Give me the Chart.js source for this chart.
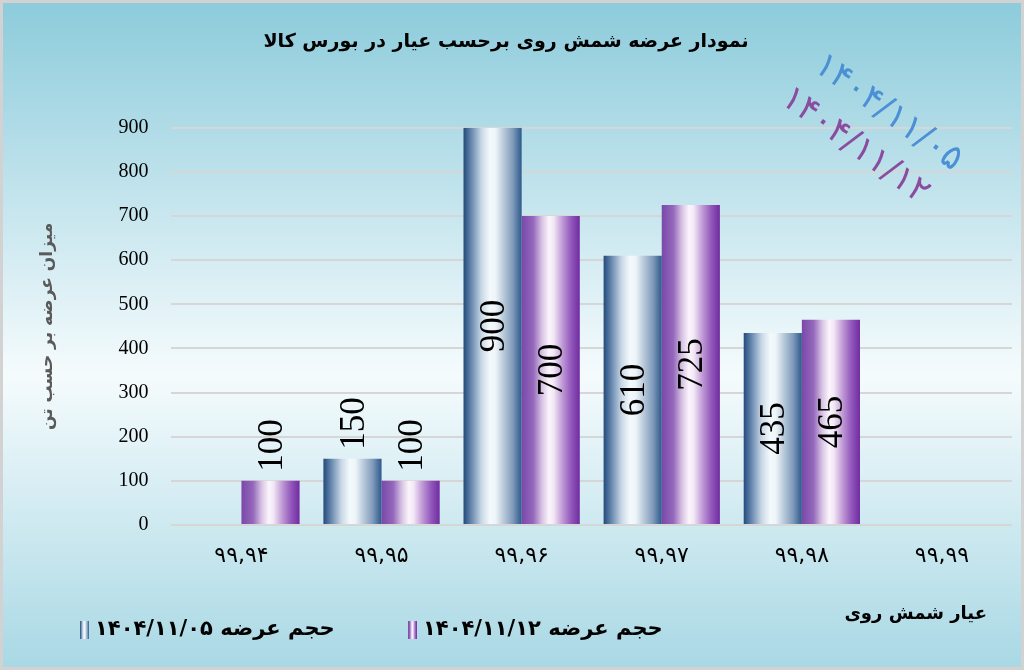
<!DOCTYPE html>
<html><head><meta charset="utf-8">
<script src="https://cdn.jsdelivr.net/npm/chart.js@4.4.1/dist/chart.umd.min.js"></script>
<style>html,body{margin:0;padding:0;background:#fff}#wrap{width:1024px;height:670px;position:relative}</style>
</head><body><div id="wrap"><canvas id="c" width="1024" height="670"></canvas></div>
<script>
// ---- data ----
const categories = ['۹۹,۹۴', '۹۹,۹۵', '۹۹,۹۶', '۹۹,۹۷', '۹۹,۹۸', '۹۹,۹۹'];
const series1Label = 'حجم عرضه ۱۴۰۴/۱۱/۰۵';
const series2Label = 'حجم عرضه ۱۴۰۴/۱۱/۱۲';
const series1Values = [null, 150, 900, 610, 435, null];
const series2Values = [100, 100, 700, 725, 465, null];
const yMin = 0, yMax = 900, yStep = 100;
const chartTitle = 'نمودار عرضه شمش روی برحسب عیار در بورس کالا';
const yAxisTitle = 'میزان عرضه بر حسب تن';
const xAxisTitle = 'عیار شمش روی';
const watermarkDates = ['۱۴۰۴/۱۱/۰۵', '۱۴۰۴/۱۱/۱۲'];

// ---- styles ----
const blueStops = [[0,'#234a7d'],[0.14,'#6a8ab0'],[0.31,'#c9d8e6'],[0.45,'#f3f9fc'],[0.55,'#eef5f9'],[0.7,'#b5c6d8'],[0.85,'#7f9aba'],[1,'#2d598b']];
const purpleStops = [[0,'#7a48aa'],[0.2,'#9468bb'],[0.35,'#d8c4e4'],[0.47,'#fbf5fc'],[0.55,'#f2e8f6'],[0.7,'#c09ad6'],[0.85,'#9358bc'],[1,'#6f2ca0']];
const persianFont = '"DejaVu Sans", "Noto Sans", sans-serif';

function hGrad(ctx, x0, x1, stops) {
  const g = ctx.createLinearGradient(x0, 0, x1, 0);
  stops.forEach(s => g.addColorStop(s[0], s[1]));
  return g;
}
function barFill(stops, fallback) {
  return (context) => {
    const el = context.element;
    if (!el || !isFinite(el.x) || !isFinite(el.width)) return fallback;
    return hGrad(context.chart.ctx, el.x - el.width / 2, el.x + el.width / 2, stops);
  };
}

const backgroundPlugin = {
  id: 'bg',
  beforeDraw(chart) {
    const {ctx, width, height} = chart;
    ctx.save();
    const g = ctx.createLinearGradient(0, 0, 0, height);
    g.addColorStop(0, '#8ccbdb');
    g.addColorStop(0.56, '#f5fbfd');
    g.addColorStop(1, '#a8d8e4');
    ctx.fillStyle = g;
    ctx.fillRect(0, 0, width, height);
    ctx.strokeStyle = '#d2d2d2';
    ctx.lineWidth = 3;
    ctx.strokeRect(1.5, 1.5, width - 3, height - 3);
    ctx.restore();
  }
};

const valueLabels = {
  id: 'valueLabels',
  afterDatasetsDraw(chart) {
    const ctx = chart.ctx;
    ctx.save();
    ctx.font = '35px "Liberation Serif", serif';
    ctx.fillStyle = '#000';
    ctx.textAlign = 'center';
    ctx.textBaseline = 'middle';
    chart.data.datasets.forEach((ds, di) => {
      const meta = chart.getDatasetMeta(di);
      meta.data.forEach((el, i) => {
        const v = ds.data[i];
        if (v == null || v === 0) return;
        const txt = String(v);
        const w = ctx.measureText(txt).width;
        const h = el.base - el.y;
        const cy = h > w + 30 ? (el.y + el.base) / 2 : el.y - 9 - w / 2;
        ctx.save();
        ctx.translate(el.x + 2, cy);
        ctx.rotate(-Math.PI / 2);
        ctx.fillText(txt, 0, 0);
        ctx.restore();
      });
    });
    ctx.restore();
  }
};

const decorPlugin = {
  id: 'decor',
  afterDraw(chart) {
    const ctx = chart.ctx;
    // diagonal date stamps
    const stamps = [
      {text: watermarkDates[0], x: 888, y: 113, c: '#4b8fd5'},
      {text: watermarkDates[1], x: 855, y: 146, c: '#8a4c9e'}
    ];
    stamps.forEach(s => {
      ctx.save();
      ctx.translate(s.x, s.y);
      ctx.rotate(36 * Math.PI / 180);
      ctx.font = '35px ' + persianFont;
      ctx.letterSpacing = '3px';
      ctx.fillStyle = s.c;
      ctx.textAlign = 'center';
      ctx.textBaseline = 'middle';
      ctx.fillText(s.text, 0, 0);
      ctx.restore();
    });
    // legend
    const items = [
      {label: chart.data.datasets[0].label, stops: blueStops, x: 80},
      {label: chart.data.datasets[1].label, stops: purpleStops, x: 408}
    ];
    const ly = 630;
    items.forEach(it => {
      ctx.save();
      ctx.fillStyle = hGrad(ctx, it.x, it.x + 9, it.stops);
      ctx.fillRect(it.x, ly - 9, 9, 18);
      ctx.font = 'bold 21px ' + persianFont;
      ctx.fillStyle = '#000';
      ctx.textAlign = 'left';
      ctx.textBaseline = 'middle';
      ctx.fillText(it.label, it.x + 15, ly);
      ctx.restore();
    });
  }
};

const chart = new Chart(document.getElementById('c'), {
  type: 'bar',
  data: {
    labels: categories,
    datasets: [
      {label: series1Label, data: series1Values, backgroundColor: barFill(blueStops, '#5f80aa'), borderWidth: 0},
      {label: series2Label, data: series2Values, backgroundColor: barFill(purpleStops, '#8a55b5'), borderWidth: 0}
    ]
  },
  options: {
    responsive: false,
    animation: false,
    events: [],
    datasets: {bar: {categoryPercentage: 0.83, barPercentage: 1.0}},
    layout: {padding: {top: 0, left: 0, right: 12, bottom: 45}},
    plugins: {
      legend: {display: false},
      tooltip: {enabled: false},
      title: {
        display: true,
        text: chartTitle,
        color: '#000',
        font: {family: persianFont, size: 19, weight: 'bold'},
        padding: {top: 31, bottom: 74}
      }
    },
    scales: {
      x: {
        grid: {display: false, drawTicks: false},
        border: {display: false},
        ticks: {color: '#000', font: {family: persianFont, size: 22}, padding: 18, maxRotation: 0},
        title: {
          display: true,
          text: xAxisTitle + '    ',
          align: 'end',
          color: '#000',
          font: {family: persianFont, size: 18, weight: 'bold'},
          padding: {top: 16, bottom: 0}
        }
      },
      y: {
        min: yMin, max: yMax,
        grid: {color: '#d6d6d6', lineWidth: 2, drawTicks: false},
        border: {display: false},
        ticks: {stepSize: yStep, color: '#000', font: {family: '"Liberation Serif", serif', size: 20}, padding: 23},
        title: {
          display: true,
          text: yAxisTitle,
          color: '#5a5a5a',
          font: {family: persianFont, size: 17, weight: 'bold'},
          padding: {top: 37, bottom: 38}
        }
      }
    }
  },
  plugins: [backgroundPlugin, valueLabels, decorPlugin]
});
chart.update('none');
</script>
</body></html>
